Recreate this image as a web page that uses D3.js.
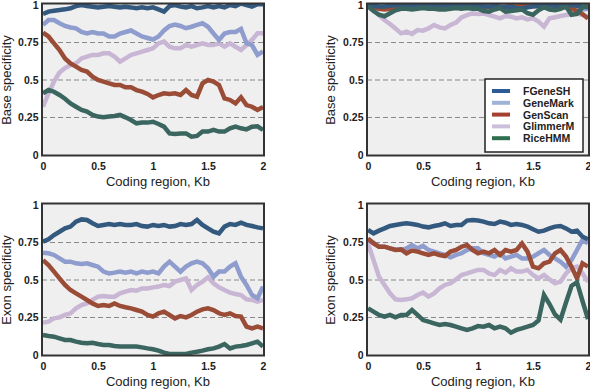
<!DOCTYPE html>
<html><head><meta charset="utf-8">
<script src="https://cdn.jsdelivr.net/npm/d3@7"></script>
<style>body{margin:0;background:#fff}svg{display:block;font-family:"Liberation Sans",Arial,sans-serif}</style>
</head><body><svg id="c" width="590" height="390"></svg>
<script>
const seriesNames = ["FGeneSH","GeneMark","GenScan","GlimmerM","RiceHMM"];
const lineColors = {FGeneSH:"#33597f",GeneMark:"#8e9dcd",GenScan:"#9a4c37",GlimmerM:"#c8b6d4",RiceHMM:"#3b6660"};
const legendColors = {FGeneSH:"#2d5b96",GeneMark:"#9fb3d6",GenScan:"#a3402f",GlimmerM:"#cdbfdc",RiceHMM:"#2f6f4f"};
const drawOrder = ["GlimmerM","GeneMark","GenScan","FGeneSH","RiceHMM"];
const xKb = [0,0.05,0.1,0.15,0.2,0.25,0.3,0.35,0.4,0.45,0.5,0.55,0.6,0.65,0.7,0.75,0.8,0.85,0.9,0.95,1,1.05,1.1,1.15,1.2,1.25,1.3,1.35,1.4,1.45,1.5,1.55,1.6,1.65,1.7,1.75,1.8,1.85,1.9,1.95,2];
const xTicks = [0,0.5,1,1.5,2];
const xTickLabels = ["0","0.5","1","1.5","2"];
const yTicks = [0,0.25,0.5,0.75,1];
const yTickLabels = ["0","0.25","0.5","0.75","1"];
const gridValues = [0.25,0.5,0.75];

// Base specificity, left panel
const baseL_FGeneSH = [0.94,0.956,0.962,0.967,0.971,0.978,0.993,1.0,0.993,0.989,0.984,0.989,0.993,0.989,0.984,0.989,0.984,0.978,0.984,0.978,0.984,0.971,0.956,0.993,1.0,0.989,0.984,0.993,0.978,0.984,0.993,0.984,0.993,0.984,1.0,0.993,1.01,1.0,0.989,1.005,1.005];
const baseL_GeneMark = [0.867,0.9,0.9,0.878,0.86,0.85,0.844,0.82,0.81,0.82,0.81,0.81,0.79,0.79,0.81,0.82,0.83,0.81,0.79,0.78,0.77,0.79,0.83,0.86,0.87,0.86,0.845,0.855,0.867,0.878,0.855,0.81,0.767,0.81,0.82,0.82,0.84,0.745,0.733,0.667,0.69];
const baseL_GenScan = [0.816,0.79,0.744,0.7,0.644,0.611,0.589,0.567,0.556,0.522,0.5,0.489,0.478,0.467,0.467,0.451,0.451,0.433,0.422,0.407,0.384,0.4,0.411,0.407,0.411,0.4,0.433,0.4,0.389,0.478,0.5,0.489,0.467,0.378,0.367,0.344,0.385,0.333,0.322,0.3,0.32];
const baseL_GlimmerM = [0.322,0.41,0.49,0.55,0.58,0.6,0.611,0.644,0.656,0.667,0.667,0.678,0.678,0.656,0.622,0.644,0.667,0.678,0.689,0.7,0.711,0.744,0.756,0.722,0.711,0.711,0.733,0.722,0.733,0.744,0.733,0.733,0.744,0.722,0.744,0.722,0.7,0.733,0.767,0.811,0.811];
const baseL_RiceHMM = [0.411,0.433,0.422,0.4,0.375,0.344,0.322,0.3,0.289,0.267,0.256,0.251,0.256,0.26,0.267,0.251,0.233,0.211,0.216,0.216,0.222,0.207,0.189,0.144,0.14,0.144,0.144,0.122,0.127,0.156,0.156,0.167,0.156,0.156,0.178,0.189,0.178,0.171,0.189,0.191,0.167];

// Base specificity, right panel
const baseR_FGeneSH = [1,0.995,0.99,0.99,0.995,1,0.995,0.995,1,0.995,0.995,1,0.995,0.995,1,0.995,0.995,0.995,1,0.995,0.995,0.99,0.99,0.995,0.99,0.985,0.99,0.98,0.975,0.985,0.99,0.995,0.995,1,0.995,0.99,0.995,1,0.995,0.99,0.985];
const baseR_GeneMark = [1,0.99,0.985,0.98,0.985,0.99,0.995,0.99,0.995,1,0.995,0.99,0.995,1,0.995,0.99,0.995,1,0.995,0.99,0.99,0.995,0.985,0.99,0.98,0.985,0.98,0.985,0.99,0.995,1,0.995,0.99,0.995,1,0.995,0.99,0.985,0.98,0.97,0.975];
const baseR_GenScan = [0.995,0.985,0.975,0.97,0.975,0.98,0.985,0.99,0.985,0.99,0.995,0.99,0.985,0.99,0.995,1,0.995,0.99,0.995,1,0.995,0.99,0.985,0.99,0.985,0.99,0.995,0.99,0.995,1,0.995,0.99,0.995,1,0.995,0.99,0.985,0.975,0.96,0.94,0.91];
const baseR_GlimmerM = [1.0,0.967,0.933,0.9,0.873,0.844,0.811,0.822,0.807,0.833,0.829,0.844,0.867,0.851,0.844,0.867,0.882,0.918,0.933,0.944,0.94,0.944,0.933,0.922,0.911,0.927,0.922,0.911,0.918,0.904,0.911,0.889,0.856,0.911,0.918,0.927,0.933,0.94,0.944,0.933,0.922];
const baseR_RiceHMM = [0.99,0.96,0.935,0.925,0.945,0.965,0.975,0.975,0.97,0.975,0.98,0.975,0.975,0.97,0.97,0.975,0.98,0.975,0.98,0.975,0.975,0.96,0.955,0.97,0.98,0.955,0.96,0.965,0.97,0.945,0.935,0.965,0.985,0.97,0.965,0.975,0.99,0.935,0.94,0.985,0.995];

// Exon specificity, left panel
const exonL_FGeneSH = [0.756,0.771,0.8,0.822,0.844,0.856,0.889,0.904,0.9,0.878,0.86,0.867,0.873,0.867,0.873,0.867,0.867,0.873,0.86,0.856,0.867,0.86,0.867,0.856,0.86,0.873,0.867,0.873,0.9,0.867,0.844,0.822,0.811,0.856,0.873,0.867,0.882,0.867,0.86,0.851,0.844];
const exonL_GeneMark = [0.682,0.678,0.667,0.644,0.622,0.622,0.611,0.607,0.611,0.6,0.589,0.556,0.544,0.549,0.556,0.549,0.556,0.544,0.556,0.549,0.556,0.544,0.589,0.622,0.589,0.556,0.589,0.611,0.622,0.611,0.578,0.522,0.556,0.556,0.589,0.611,0.522,0.467,0.4,0.378,0.456];
const exonL_GenScan = [0.633,0.6,0.556,0.511,0.467,0.433,0.411,0.389,0.367,0.344,0.327,0.333,0.327,0.344,0.327,0.318,0.311,0.3,0.289,0.267,0.256,0.278,0.289,0.267,0.244,0.26,0.251,0.267,0.289,0.304,0.311,0.3,0.278,0.267,0.278,0.26,0.256,0.189,0.178,0.189,0.178];
const exonL_GlimmerM = [0.216,0.222,0.244,0.251,0.267,0.278,0.311,0.333,0.344,0.367,0.389,0.393,0.389,0.389,0.411,0.422,0.433,0.429,0.444,0.444,0.451,0.456,0.467,0.46,0.489,0.5,0.511,0.433,0.467,0.489,0.518,0.478,0.451,0.433,0.416,0.407,0.4,0.371,0.367,0.356,0.367];
const exonL_RiceHMM = [0.133,0.127,0.122,0.111,0.1,0.1,0.089,0.082,0.078,0.082,0.073,0.067,0.067,0.06,0.056,0.056,0.056,0.056,0.051,0.044,0.038,0.029,0.016,0.007,0.007,0.007,0.007,0.016,0.022,0.029,0.038,0.044,0.056,0.073,0.044,0.056,0.06,0.067,0.078,0.089,0.056];

// Exon specificity, right panel
const exonR_FGeneSH = [0.833,0.811,0.829,0.844,0.86,0.867,0.873,0.878,0.873,0.867,0.856,0.851,0.86,0.867,0.878,0.86,0.867,0.867,0.896,0.9,0.896,0.889,0.878,0.873,0.889,0.882,0.867,0.873,0.867,0.856,0.838,0.822,0.829,0.844,0.856,0.86,0.844,0.822,0.829,0.789,0.771];
const exonR_GeneMark = [0.767,0.749,0.722,0.722,0.711,0.704,0.7,0.711,0.733,0.711,0.727,0.7,0.689,0.678,0.667,0.651,0.667,0.678,0.7,0.711,0.711,0.678,0.667,0.656,0.678,0.644,0.656,0.667,0.644,0.644,0.656,0.678,0.7,0.667,0.644,0.622,0.589,0.633,0.7,0.767,0.744];
const exonR_GenScan = [0.778,0.744,0.722,0.722,0.711,0.7,0.704,0.678,0.696,0.689,0.678,0.667,0.678,0.667,0.66,0.689,0.7,0.722,0.733,0.7,0.678,0.689,0.678,0.7,0.667,0.7,0.689,0.7,0.744,0.689,0.589,0.578,0.611,0.622,0.678,0.7,0.656,0.589,0.511,0.611,0.589];
const exonR_GlimmerM = [0.744,0.633,0.522,0.467,0.411,0.371,0.367,0.371,0.378,0.4,0.416,0.389,0.411,0.444,0.467,0.478,0.504,0.533,0.544,0.556,0.567,0.567,0.544,0.533,0.567,0.549,0.578,0.556,0.556,0.567,0.533,0.511,0.533,0.504,0.478,0.489,0.544,0.578,0.589,0.544,0.489];
const exonR_RiceHMM = [0.311,0.289,0.267,0.256,0.267,0.251,0.267,0.267,0.3,0.267,0.233,0.222,0.211,0.2,0.207,0.2,0.189,0.178,0.167,0.178,0.193,0.189,0.2,0.178,0.189,0.178,0.149,0.167,0.178,0.189,0.2,0.23,0.4,0.34,0.27,0.235,0.35,0.46,0.485,0.36,0.24];

const panels = [
  {series:{FGeneSH:baseL_FGeneSH,GeneMark:baseL_GeneMark,GenScan:baseL_GenScan,GlimmerM:baseL_GlimmerM,RiceHMM:baseL_RiceHMM},
   left:43,right:263,top:5,bottom:155,title:"Base specificity",titleX:11,legend:false},
  {series:{FGeneSH:baseR_FGeneSH,GeneMark:baseR_GeneMark,GenScan:baseR_GenScan,GlimmerM:baseR_GlimmerM,RiceHMM:baseR_RiceHMM},
   left:368,right:588,top:5,bottom:155,title:"Base specificity",titleX:335,legend:true},
  {series:{FGeneSH:exonL_FGeneSH,GeneMark:exonL_GeneMark,GenScan:exonL_GenScan,GlimmerM:exonL_GlimmerM,RiceHMM:exonL_RiceHMM},
   left:43,right:263,top:205,bottom:355,title:"Exon specificity",titleX:11,legend:false},
  {series:{FGeneSH:exonR_FGeneSH,GeneMark:exonR_GeneMark,GenScan:exonR_GenScan,GlimmerM:exonR_GlimmerM,RiceHMM:exonR_RiceHMM},
   left:368,right:588,top:205,bottom:355,title:"Exon specificity",titleX:335,legend:false}
];

const svg = d3.select("#c");
panels.forEach((p, pi) => {
  const x = d3.scaleLinear().domain([0,2]).range([p.left,p.right]);
  const y = d3.scaleLinear().domain([0,1]).range([p.bottom,p.top]);
  const fx0 = p.left-1, fx1 = p.right+1, fy0 = p.top-1.5, fy1 = p.bottom+0.5;
  svg.append("rect").attr("x",fx0).attr("y",fy0).attr("width",fx1-fx0).attr("height",fy1-fy0).attr("fill","#efefef");
  const clipId = "clip"+pi;
  svg.append("clipPath").attr("id",clipId).append("rect").attr("x",fx0).attr("y",fy0).attr("width",fx1-fx0).attr("height",fy1-fy0);
  const g = svg.append("g");
  g.selectAll("line.grid").data(gridValues).enter().append("line")
    .attr("x1",fx0).attr("x2",fx1).attr("y1",d=>y(d)).attr("y2",d=>y(d))
    .attr("stroke","#8a8a8a").attr("stroke-width",1.2).attr("stroke-dasharray","5,3");
  const line = d3.line().x((d,i)=>x(xKb[i])).y(d=>y(d));
  const lg = svg.append("g").attr("clip-path",`url(#${clipId})`);
  drawOrder.forEach(name => {
    lg.append("path").attr("d",line(p.series[name])).attr("fill","none")
      .attr("stroke",lineColors[name]).attr("stroke-width",4.5).attr("stroke-linejoin","miter");
  });
  svg.append("rect").attr("x",fx0).attr("y",fy0).attr("width",fx1-fx0).attr("height",fy1-fy0)
    .attr("fill","none").attr("stroke","#333").attr("stroke-width",2);
  const xa = svg.append("g").attr("transform",`translate(0,${p.bottom})`)
    .call(d3.axisBottom(x).tickValues(xTicks).tickFormat((d,i)=>xTickLabels[i]).tickSize(0).tickPadding(7.5));
  const ya = svg.append("g").attr("transform",`translate(${p.left},0)`)
    .call(d3.axisLeft(y).tickValues(yTicks).tickFormat((d,i)=>yTickLabels[i]).tickSize(0).tickPadding(4.5));
  [xa,ya].forEach(a=>{a.select(".domain").remove();
    a.selectAll("text").attr("font-family","Liberation Sans, Arial, sans-serif").attr("font-size",10.5).attr("font-weight","bold").attr("fill","#222");});
  svg.append("text").attr("x",(p.left+p.right)/2+5).attr("y",p.bottom+30.5).attr("text-anchor","middle")
    .attr("font-size",13).attr("fill","#222").text("Coding region, Kb");
  svg.append("text").attr("transform",`translate(${p.titleX},${(p.top+p.bottom)/2}) rotate(-90)`).attr("text-anchor","middle")
    .attr("font-size",13).attr("fill","#222").text(p.title);
  if (p.legend) {
    const lgd = svg.append("g");
    lgd.append("rect").attr("x",485).attr("y",79).attr("width",98).attr("height",73).attr("fill","#fff").attr("stroke","#222").attr("stroke-width",1.5);
    seriesNames.forEach((name,i)=>{
      const yy = 91 + i*11.8;
      lgd.append("line").attr("x1",492).attr("x2",510).attr("y1",yy).attr("y2",yy).attr("stroke",legendColors[name]).attr("stroke-width",4);
      lgd.append("text").attr("x",523).attr("y",yy+4).attr("font-size",10.5).attr("font-weight","bold").attr("fill","#222").text(name);
    });
  }
});
</script></body></html>
